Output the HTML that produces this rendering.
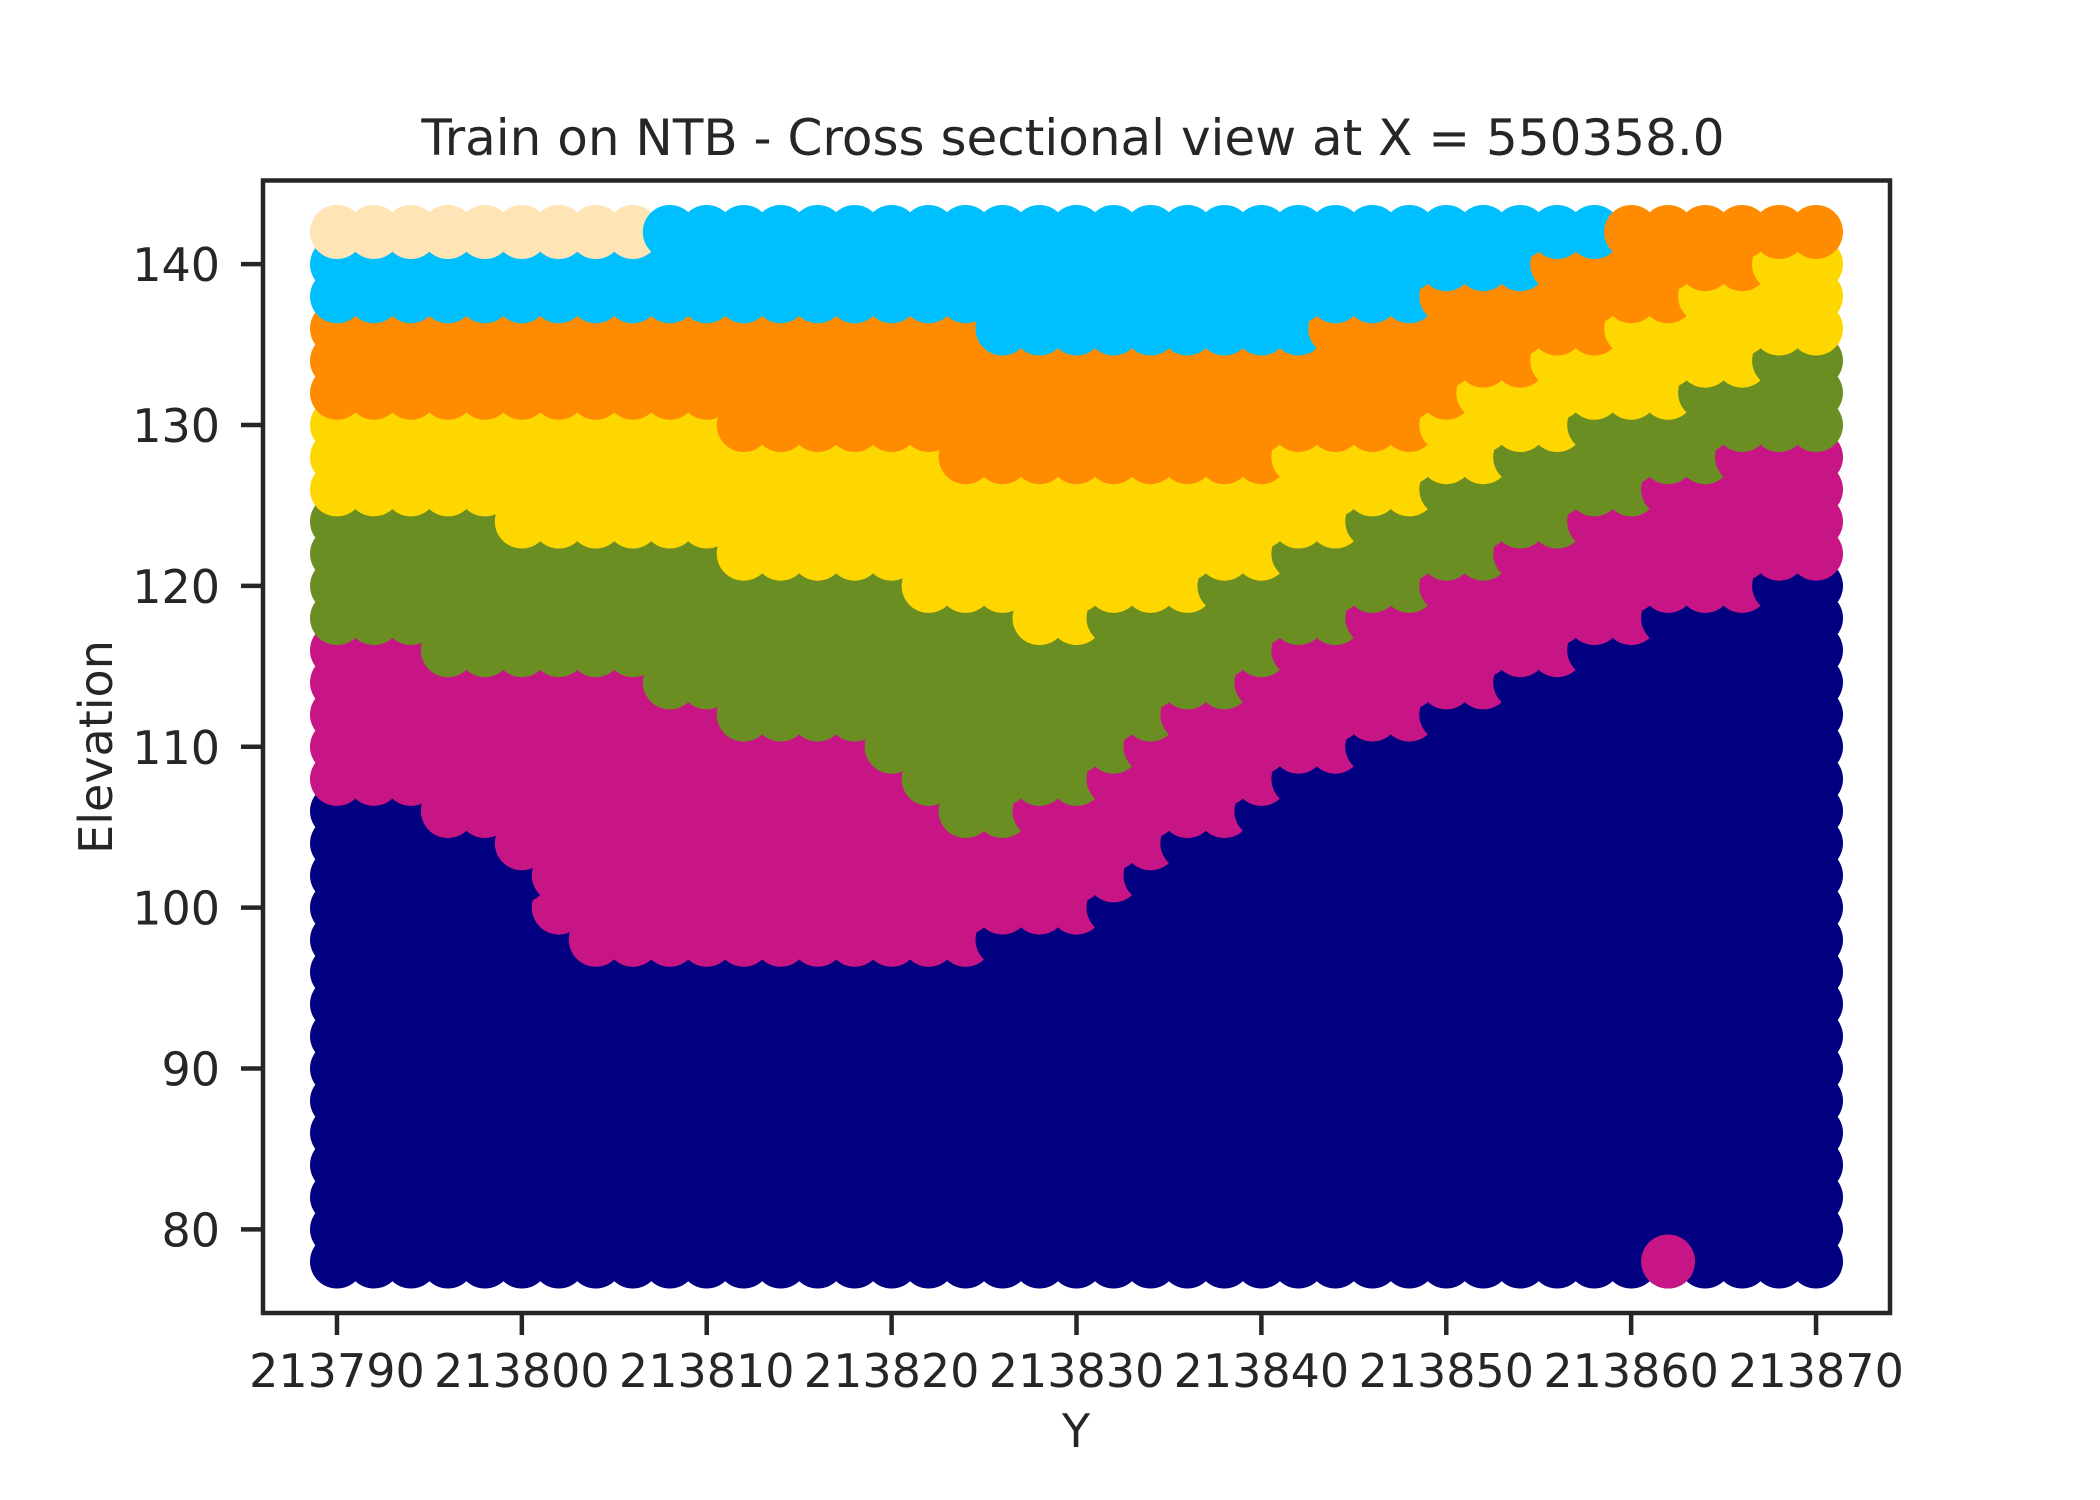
<!DOCTYPE html>
<html><head><meta charset="utf-8"><style>
html,body{margin:0;padding:0;background:#fff;}
svg{display:block;font-family:"DejaVu Sans","Liberation Sans",sans-serif;}
</style></head><body>
<svg id="chart" width="2100" height="1500" viewBox="0 0 2100 1500" xmlns="http://www.w3.org/2000/svg">
<rect width="2100" height="1500" fill="#fff"/>
<text x="1073" y="155" font-size="50" text-anchor="middle" fill="#262626">Train on NTB - Cross sectional view at X = 550358.0</text>
<g id="marks"></g>
<rect x="263" y="180.5" width="1627" height="1132.5" fill="none" stroke="#262626" stroke-width="4.5"/>
<g id="ticks"></g>
<text x="1076" y="1447" font-size="46" text-anchor="middle" fill="#262626">Y</text>
<text x="0" y="0" font-size="46" text-anchor="middle" fill="#262626" transform="translate(112,747) rotate(-90)">Elevation</text>
</svg>
<script>
const startY = 213790;
const stepY = 2;
const navyTop =   [106,106,106,104,104,102,98,96,96,96,96,96,96,96,96,96,96,96,98,98,98,100,102,104,104,106,108,108,110,110,112,112,114,114,116,116,118,118,118,120,120];
const pinkTop =   [116,116,116,114,114,114,114,114,114,112,112,110,110,110,110,108,106,104,104,106,106,108,110,112,112,114,116,116,118,118,120,120,122,122,124,124,126,126,128,128,128];
const greenTop =  [124,124,124,124,124,122,122,122,122,122,122,120,120,120,120,120,118,118,118,116,116,118,118,118,120,120,122,122,124,124,126,126,128,128,130,130,130,132,132,134,134];
const yellowTop = [130,130,130,130,130,130,130,130,130,130,130,128,128,128,128,128,128,126,126,126,126,126,126,126,126,126,128,128,128,128,130,132,132,134,134,136,136,138,138,140,140];
const orangeTop = [136,136,136,136,136,136,136,136,136,136,136,136,136,136,136,136,136,136,134,134,134,134,134,134,134,134,134,136,136,136,138,138,138,140,140,142,142,142,142,142,142];
const blueTop =   [140,140,140,140,140,140,140,140,140,142,142,142,142,142,142,142,142,142,142,142,142,142,142,142,142,142,142,142,142,142,142,142,142,142,142,142,142,142,142,142,142];
const topElev = 142;
const bottomElev = 78;
const extraY = [213862];
const extraZ = [78];
const extraLayer = [1];
const layerColors = ["#000080","#C71585","#6B8E23","#FFD700","#FF8C00","#00BFFF","#FFE4B5"];
const layerNames = ["navy","pink","green","yellow","orange","blue","moccasin"];
const xTicks = [213790,213800,213810,213820,213830,213840,213850,213860,213870];
const yTicks = [80,90,100,110,120,130,140];

const L=263,R=1890,T=180.5,B=1313;
const xMin=213786,xMax=213874,yMin=74.8,yMax=145.2;
function sx(v){return L+(v-xMin)/(xMax-xMin)*(R-L);}
function sy(v){return B-(v-yMin)/(yMax-yMin)*(B-T);}
const NS="http://www.w3.org/2000/svg";
const marks=document.getElementById('marks');
const tops=[navyTop,pinkTop,greenTop,yellowTop,orangeTop,blueTop];
function layerAt(i,z){
  for(let k=0;k<tops.length;k++){ if(z<=tops[k][i]) return k; }
  return 6;
}
function addPoint(yv,z,k){
  const c=document.createElementNS(NS,'circle');
  c.setAttribute('cx',sx(yv).toFixed(1));
  c.setAttribute('cy',sy(z).toFixed(1));
  c.setAttribute('r',27);
  c.setAttribute('fill',layerColors[k]);
  
  
  marks.appendChild(c);
}
for(let z=bottomElev; z<=topElev; z+=2){
  for(let i=0;i<navyTop.length;i++){
    addPoint(startY+i*stepY,z,layerAt(i,z));
  }
}
for(let j=0;j<extraY.length;j++){ addPoint(extraY[j],extraZ[j],extraLayer[j]); }
const tg=document.getElementById('ticks');
xTicks.forEach(v=>{
  const x=sx(v);
  const l=document.createElementNS(NS,'line');
  l.setAttribute('x1',x);l.setAttribute('x2',x);l.setAttribute('y1',B);l.setAttribute('y2',B+22);
  l.setAttribute('stroke','#262626');l.setAttribute('stroke-width',4.5);
  
  
  tg.appendChild(l);
  const t=document.createElementNS(NS,'text');
  t.setAttribute('x',x);t.setAttribute('y',1387);t.setAttribute('font-size',46);
  t.setAttribute('text-anchor','middle');t.setAttribute('fill','#262626');
  t.textContent=v;
  
  
  tg.appendChild(t);
});
yTicks.forEach(v=>{
  const y=sy(v);
  const l=document.createElementNS(NS,'line');
  l.setAttribute('x1',L-22);l.setAttribute('x2',L);l.setAttribute('y1',y);l.setAttribute('y2',y);
  l.setAttribute('stroke','#262626');l.setAttribute('stroke-width',4.5);
  
  
  tg.appendChild(l);
  const t=document.createElementNS(NS,'text');
  t.setAttribute('x',220);t.setAttribute('y',y+17);t.setAttribute('font-size',46);
  t.setAttribute('text-anchor','end');t.setAttribute('fill','#262626');
  t.textContent=v;
  
  
  tg.appendChild(t);
});
</script>
</body></html>
